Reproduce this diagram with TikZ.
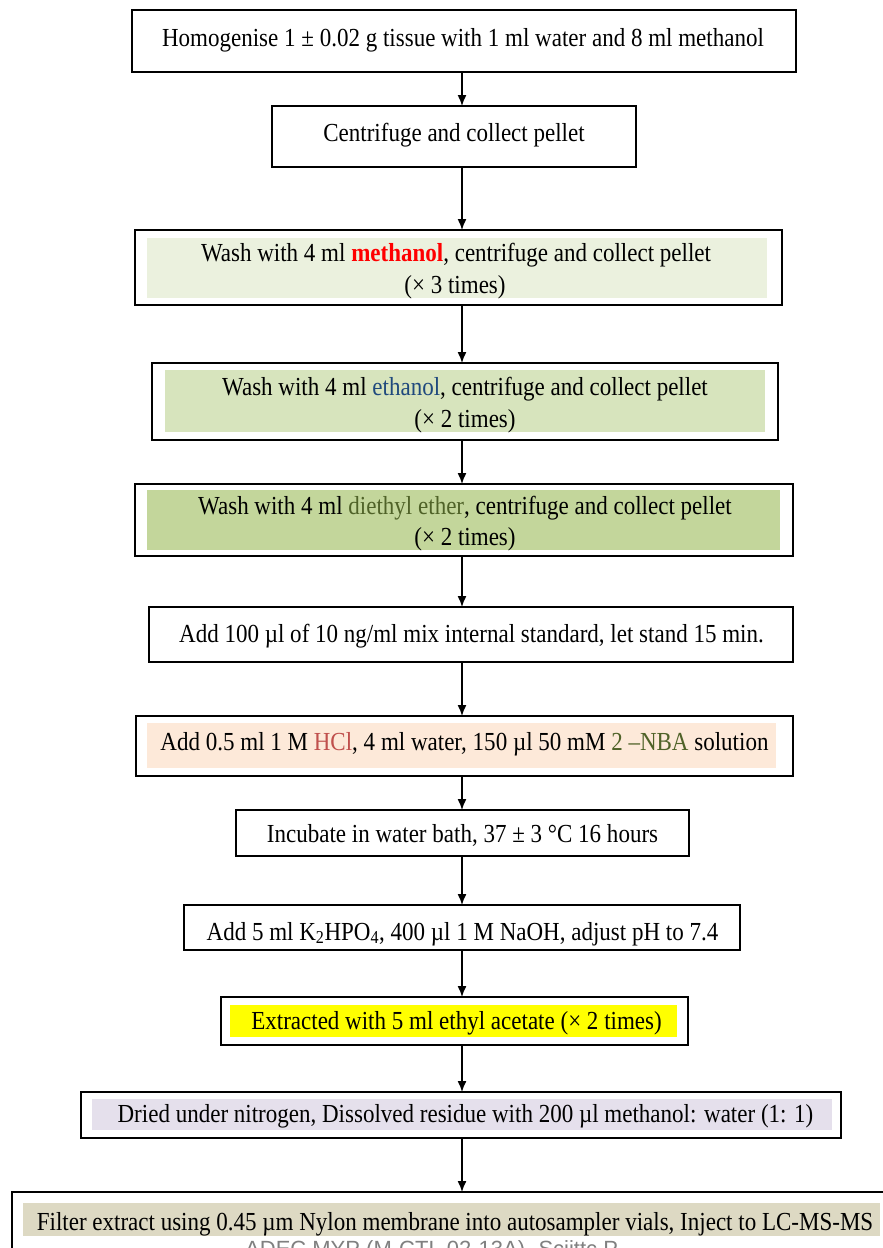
\documentclass[tikz,border=0pt]{standalone}
\usepackage{fontspec}
\setmainfont{Liberation Serif}[FakeStretch=0.885]
\newfontfamily\footsans{Liberation Sans}
\usetikzlibrary{arrows.meta}
\definecolor{fillA}{HTML}{EBF1DE}
\definecolor{fillB}{HTML}{D7E4BD}
\definecolor{fillC}{HTML}{C3D69B}
\definecolor{fillD}{HTML}{FDE9D9}
\definecolor{fillE}{HTML}{FFFF00}
\definecolor{fillF}{HTML}{E5E0EC}
\definecolor{fillG}{HTML}{DDD9C3}
\definecolor{ethblue}{HTML}{1F497D}
\definecolor{ethergreen}{HTML}{4F6228}
\definecolor{hclred}{HTML}{C0504D}
\definecolor{nbagreen}{HTML}{4F6228}
\begin{document}
\begin{tikzpicture}[x=1pt,y=1pt,
  box/.style={draw=black, fill=white, line width=1.8pt, inner sep=0pt, outer sep=0pt},
  band/.style={inner sep=0pt, outer sep=0pt, draw=none},
  txt/.style={anchor=base, inner sep=0pt, font=\fontsize{26}{32}\selectfont},
  arr/.style={line width=1.4pt, -{Latex[length=11pt,width=9pt]}}
]
\useasboundingbox (0,0) rectangle (883,-1248);
\clip (0,0) rectangle (883,-1248);
\coordinate (ax) at (462,0);

% boxes
\node[box, minimum width=664, minimum height=62] (b1) at (464,-41) {};
\node[box, minimum width=364, minimum height=61] (b2) at (454,-136.5) {};
\node[box, minimum width=647, minimum height=75] (b3) at (458.5,-267.5) {};
\node[band, fill=fillA, minimum width=620, minimum height=60] (f3) at (457,-268) {};
\node[box, minimum width=626, minimum height=77] (b4) at (465,-401.5) {};
\node[band, fill=fillB, minimum width=600, minimum height=62] (f4) at (465,-401) {};
\node[box, minimum width=658, minimum height=72] (b5) at (464,-520) {};
\node[band, fill=fillC, minimum width=633, minimum height=60] (f5) at (463.5,-520) {};
\node[box, minimum width=644, minimum height=55] (b6) at (471,-634.5) {};
\node[box, minimum width=657, minimum height=60] (b7) at (464.5,-746) {};
\node[band, fill=fillD, minimum width=629, minimum height=45] (f7) at (461.5,-745.5) {};
\node[box, minimum width=453, minimum height=46] (b8) at (462.5,-833) {};
\node[box, minimum width=556, minimum height=45] (b9) at (462,-927.5) {};
\node[box, minimum width=467, minimum height=48] (b10) at (454.5,-1021) {};
\node[band, fill=fillE, minimum width=447, minimum height=32] (f10) at (453.5,-1021) {};
\node[box, minimum width=760, minimum height=46] (b11) at (461,-1115) {};
\node[band, fill=fillF, minimum width=740, minimum height=31] (f11) at (462,-1114.5) {};
\node[box, minimum width=888, minimum height=78] (b12) at (456,-1231) {};
\node[band, fill=fillG, minimum width=857, minimum height=33] (f12) at (451.5,-1219.5) {};

% texts
\node[txt] (t1) at (463,-46) {Homogenise 1 ± 0.02 g tissue with 1 ml water and 8 ml methanol};
\node[txt] (t2) at (454,-141) {Centrifuge and collect pellet};
\node[txt] (t3a) at (456,-261) {Wash with 4 ml \textcolor{red}{\textbf{methanol}}, centrifuge and collect pellet};
\node[txt] (t3b) at (455,-293) {(× 3 times)};
\node[txt] (t4a) at (465,-395) {Wash with 4 ml \textcolor{ethblue}{ethanol}, centrifuge and collect pellet};
\node[txt] (t4b) at (465,-427) {(× 2 times)};
\node[txt] (t5a) at (465,-514) {Wash with 4 ml \textcolor{ethergreen}{diethyl ether}, centrifuge and collect pellet};
\node[txt] (t5b) at (465,-545) {(× 2 times)};
\node[txt] (t6) at (471.5,-642) {Add 100 µl of 10 ng/ml mix internal standard, let stand 15 min.};
\node[txt] (t7) at (464.5,-750) {Add 0.5 ml 1 M \textcolor{hclred}{HCl}, 4 ml water, 150 µl 50 mM \textcolor{nbagreen}{2 –NBA} solution};
\node[txt] (t8) at (462.5,-842) {Incubate in water bath, 37 ± 3 °C 16 hours};
\node[txt] (t9) at (462.5,-940) {Add 5 ml K\textsubscript{2}HPO\textsubscript{4}, 400 µl 1 M NaOH, adjust pH to 7.4};
\node[txt] (t10) at (456.5,-1029) {Extracted with 5 ml ethyl acetate (× 2 times)};
\node[txt] (t11) at (465.5,-1122) {Dried under nitrogen, Dissolved residue with 200 µl methanol: water (1: 1)};
\node[txt] (t12) at (455,-1230) {Filter extract using 0.45 µm Nylon membrane into autosampler vials, Inject to LC-MS-MS};
\node[anchor=base west, inner sep=0pt, text=gray, font=\footsans\fontsize{22}{26}\selectfont] (foot) at (245,-1256) {ADEC MYP (M-CTL 02-13A)- Sciittc P};

% arrows
\draw[arr] (b1.south -| ax) -- (b2.north -| ax);
\draw[arr] (b2.south -| ax) -- (b3.north -| ax);
\draw[arr] (b3.south -| ax) -- (b4.north -| ax);
\draw[arr] (b4.south -| ax) -- (b5.north -| ax);
\draw[arr] (b5.south -| ax) -- (b6.north -| ax);
\draw[arr] (b6.south -| ax) -- (b7.north -| ax);
\draw[arr] (b7.south -| ax) -- (b8.north -| ax);
\draw[arr] (b8.south -| ax) -- (b9.north -| ax);
\draw[arr] (b9.south -| ax) -- (b10.north -| ax);
\draw[arr] (b10.south -| ax) -- (b11.north -| ax);
\draw[arr] (b11.south -| ax) -- (b12.north -| ax);
\end{tikzpicture}
\end{document}
